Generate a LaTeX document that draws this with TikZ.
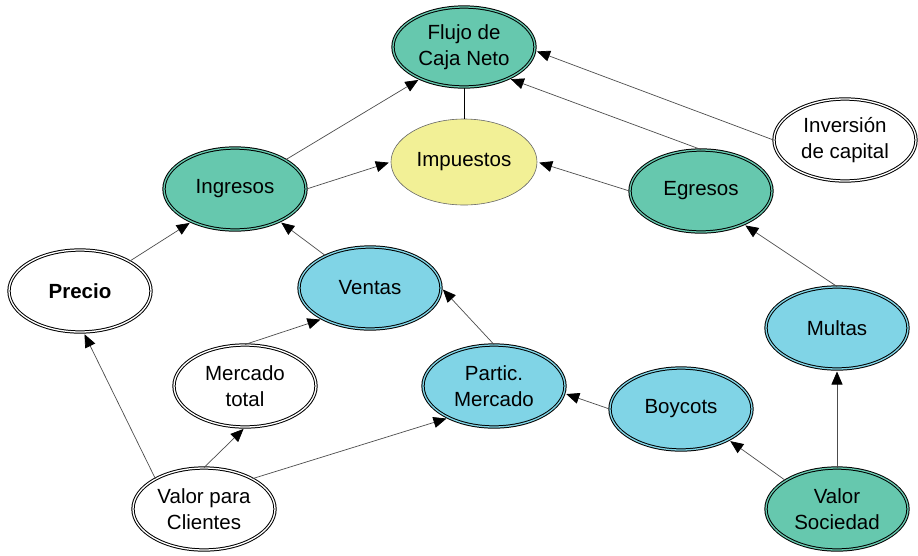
\documentclass[tikz,border=0pt]{standalone}
\usepackage{fontspec}
\setmainfont{Liberation Sans}
\usetikzlibrary{shapes.geometric,arrows.meta}
\definecolor{cteal}{HTML}{66C8AE}
\definecolor{cblue}{HTML}{80D4E6}
\definecolor{cyell}{HTML}{F2F096}
\begin{document}
\begin{tikzpicture}[x=1pt,y=-1pt,
  nd/.style={ellipse, draw=black, line width=1pt, double distance=1.3pt,
    inner sep=0pt, minimum width=142pt, minimum height=82pt, align=center,
    font=\fontsize{20.5}{25.5}\selectfont},
  gr/.style={nd, fill=cteal, double=cteal},
  bl/.style={nd, fill=cblue, double=cblue},
  wh/.style={nd, fill=white, double=white},
  ar/.style={draw=black!70, line width=0.7pt,
    -{Triangle[length=13pt,width=11pt,color=black]}, shorten >=2pt},
  ln/.style={draw=black, line width=0.8pt}]
\useasboundingbox (0,0) rectangle (918,555);
\node[gr, minimum height=80pt] (F) at (464,47) {Flujo de\\Caja Neto};
\node[ellipse, draw=black!60, line width=0.6pt, fill=cyell, inner sep=0pt,
  minimum width=146pt, minimum height=86pt,
  font=\fontsize{20.5}{25.5}\selectfont] (I) at (464,162) {Impuestos};
\node[gr] (G) at (235,189) {Ingresos};
\node[gr] (E) at (701,191) {Egresos};
\node[wh] (V) at (845,140) {Inversión\\de capital};
\node[wh] (P) at (80,291) {\textbf{Precio}};
\node[bl] (T) at (370,288) {Ventas};
\node[bl] (M) at (837,328) {Multas};
\node[wh] (MT) at (245,386) {Mercado\\total};
\node[bl] (PM) at (494,386) {Partic.\\Mercado};
\node[bl] (B) at (681,409) {Boycots};
\node[wh] (VC) at (204,509) {Valor para\\Clientes};
\node[gr] (VS) at (837,509) {Valor\\Sociedad};

\draw[ln] (I.north) -- (F.south);
\draw[ar] (G.30) -- (F.216);
\draw[ar] (G.0) -- (I.180);
\draw[ar] (E.180) -- (I.0);
\draw[ar] (E.north) -- (F.-35);
\draw[ar] (V.180) -- (F.-3);
\draw[ar] (P.31) -- (G.217);
\draw[ar] (T.144) -- (G.-36);
\draw[ar] (MT.north) -- (T.213);
\draw[ar] (PM.north) -- (T.east);
\draw[ar] (B.west) -- (PM.-6);
\draw[ar] (VS.151) -- (B.-33);
\draw[ar] (VS.north) -- (M.south);
\draw[ar] (M.north) -- (E.-38);
\draw[ar] (VC.148) -- (P.-85);
\draw[ar] (VC.north) -- (MT.south);
\draw[ar] (VC.32) -- (PM.215);
\end{tikzpicture}
\end{document}
